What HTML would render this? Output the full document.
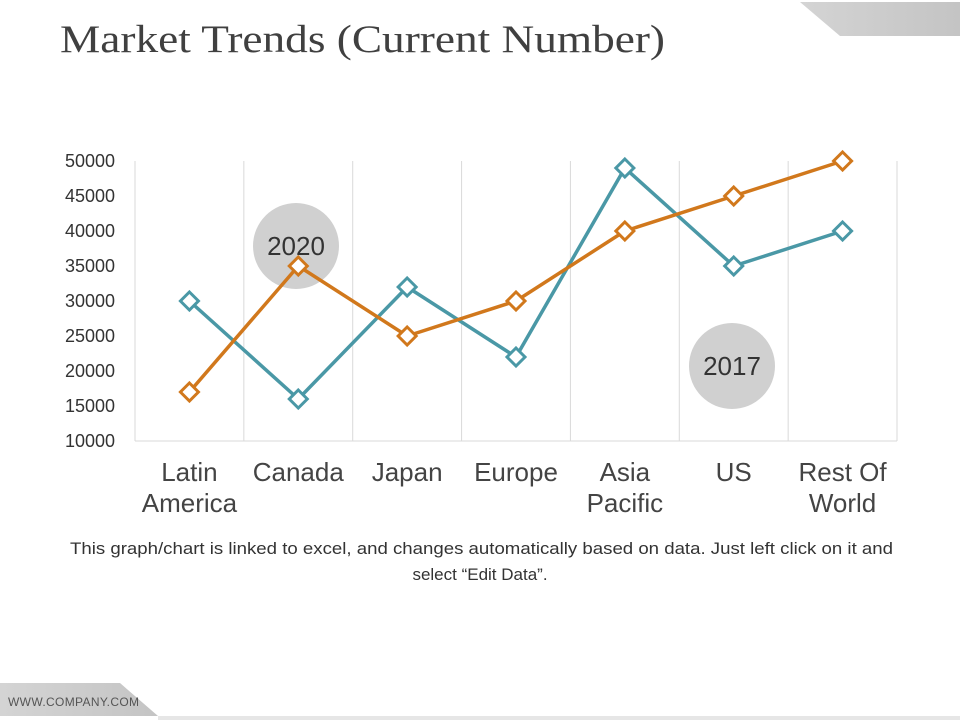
<!DOCTYPE html>
<html><head><meta charset="utf-8"><style>
body{margin:0;width:960px;height:720px;background:#fff;overflow:hidden;position:relative;font-family:"Liberation Sans",sans-serif}
</style></head><body>
<svg width="960" height="720" style="position:absolute;left:0;top:0">
<defs><linearGradient id="g" x1="0" x2="1"><stop offset="0" stop-color="#d4d4d4"/><stop offset="1" stop-color="#c4c4c4"/></linearGradient></defs>
<polygon points="800,2 960,2 960,36 840,36" fill="url(#g)"/>
<polygon points="0,683 120,683 158,716 0,716" fill="url(#g)"/>
<rect x="158" y="716" width="802" height="4" fill="#e6e6e6"/>
<text x="8" y="706" font-size="12" fill="#555" textLength="131">WWW.COMPANY.COM</text>
<text x="60" y="52" font-family="Liberation Serif,serif" font-size="39" fill="#404040" textLength="605" lengthAdjust="spacingAndGlyphs">Market Trends (Current Number)</text>
<g id="chart"></g>
<text x="70" y="554" font-size="17" fill="#333" textLength="823" lengthAdjust="spacingAndGlyphs">This graph/chart is linked to excel, and changes automatically based on data. Just left click on it and</text>
<text x="480" y="580" font-size="17" fill="#333" text-anchor="middle">select “Edit Data”.</text>
</svg>
<script>
const categories=[["Latin","America"],["Canada"],["Japan"],["Europe"],["Asia","Pacific"],["US"],["Rest Of","World"]];
const series2017=[30000,16000,32000,22000,49000,35000,40000];
const series2020=[17000,35000,25000,30000,40000,45000,50000];
const yTicks=[10000,15000,20000,25000,30000,35000,40000,45000,50000];
const NS="http://www.w3.org/2000/svg";
const g=document.getElementById('chart');
const L=135,R=897,T=161,B=441,ymin=10000,ymax=50000;
const bw=(R-L)/categories.length;
const x=i=>L+bw*(i+0.5);
const y=v=>B-(v-ymin)/(ymax-ymin)*(B-T);
function mk(t,a){const e=document.createElementNS(NS,t);for(const k in a)e.setAttribute(k,a[k]);g.appendChild(e);return e;}
for(let i=0;i<=categories.length;i++){const l=mk('line',{x1:L+bw*i,x2:L+bw*i,y1:T,y2:B,stroke:'#d9d9d9','stroke-width':1});

}
const ax=mk('line',{x1:L,x2:R,y1:B,y2:B,stroke:'#d9d9d9','stroke-width':1});


yTicks.forEach(v=>{const t=mk('text',{x:115,y:y(v)+6,'font-size':18,fill:'#333','text-anchor':'end'});t.textContent=v;

});
categories.forEach((c,i)=>{c.forEach((s,j)=>{const t=mk('text',{x:x(i),y:481+j*31,'font-size':26,fill:'#444','text-anchor':'middle'});t.textContent=s;

});});
function bubble(cx,cy,label,name){const c=mk('circle',{cx:cx,cy:cy,r:43,fill:'#d0d0d0'});


const t=mk('text',{x:cx,y:cy+9,'font-size':26,fill:'#333','text-anchor':'middle'});t.textContent=label;

}
bubble(296,246,'2020','series-2020');
bubble(732,366,'2017','series-2017');
function drawSeries(vals,color,name){
const p=mk('polyline',{points:vals.map((v,i)=>x(i)+','+y(v)).join(' '),fill:'none',stroke:color,'stroke-width':3.5,'stroke-linejoin':'round'});


vals.forEach((v,i)=>{const s=9;const m=mk('polygon',{points:`${x(i)},${y(v)-s} ${x(i)+s},${y(v)} ${x(i)},${y(v)+s} ${x(i)-s},${y(v)}`,fill:'#fff',stroke:color,'stroke-width':3});

});}
drawSeries(series2017,'#4a98a6','series-2017');
drawSeries(series2020,'#d1781c','series-2020');
</script>
</body></html>
